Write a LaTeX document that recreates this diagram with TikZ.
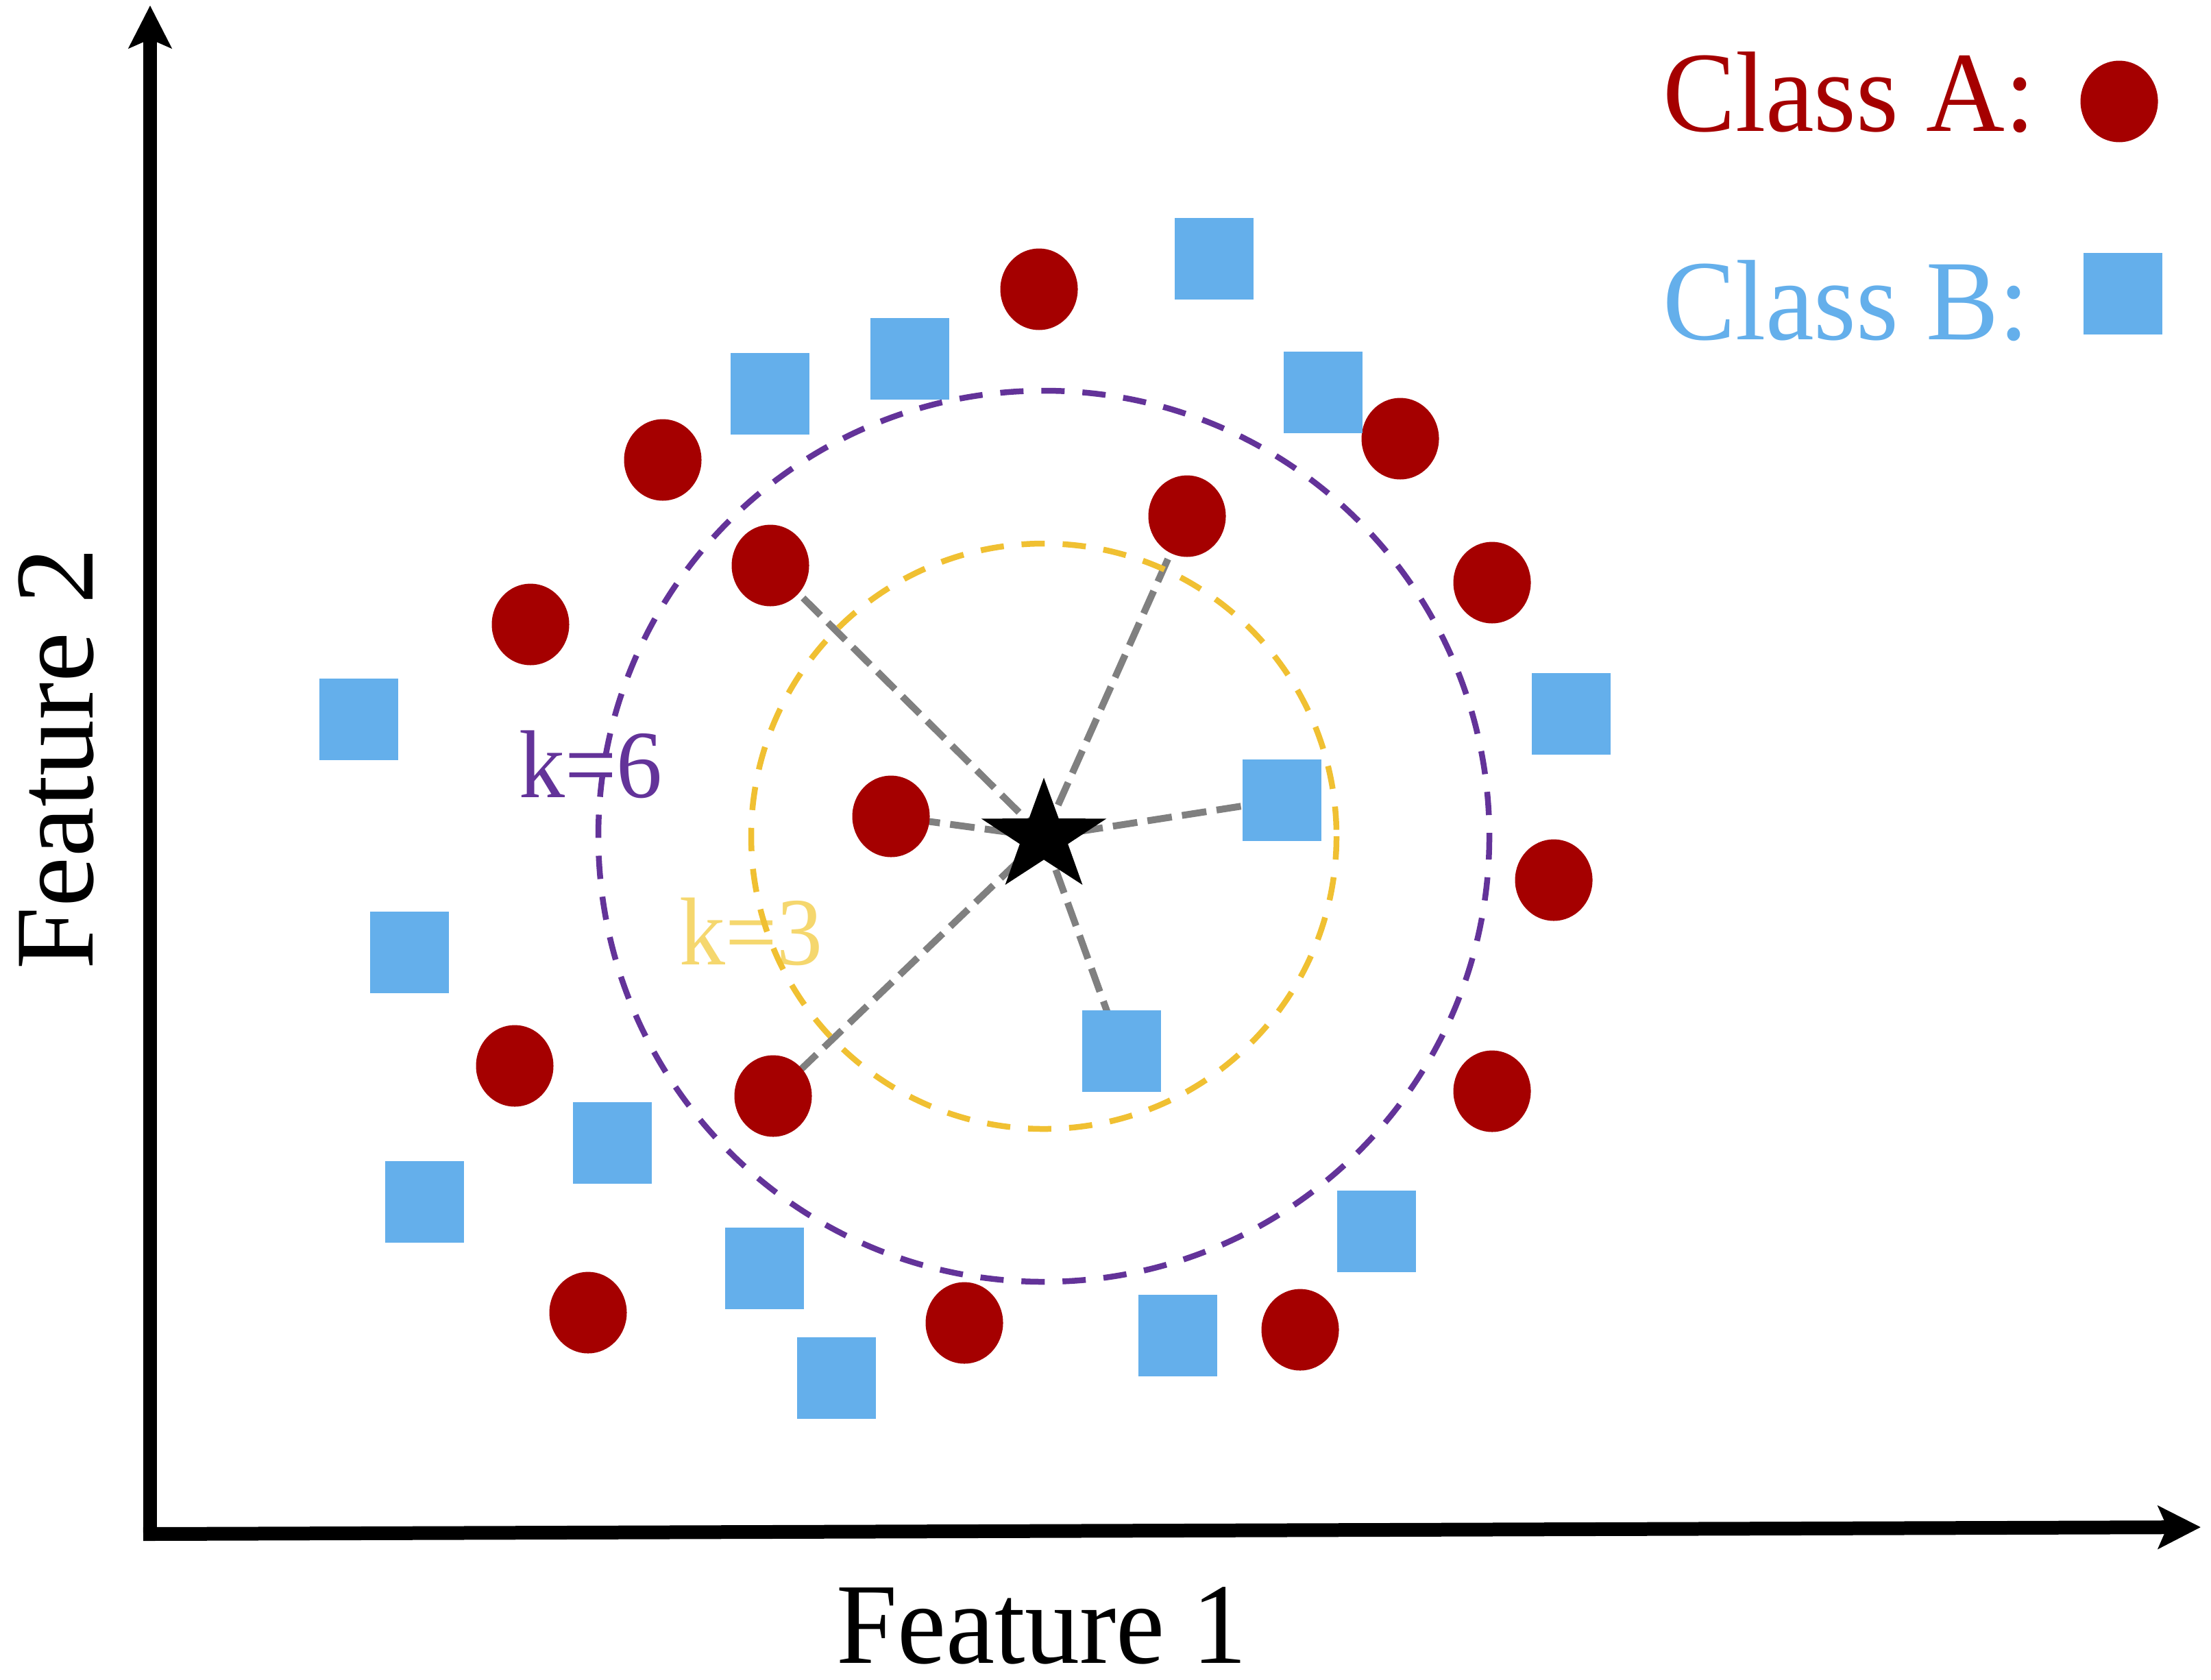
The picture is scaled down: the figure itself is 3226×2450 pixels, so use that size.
\documentclass[tikz,border=0pt]{standalone}
\usepackage{fontspec}
\setmainfont{Liberation Serif}
\usetikzlibrary{shapes.geometric,arrows.meta}
\definecolor{clsA}{RGB}{165,0,0}
\definecolor{clsB}{RGB}{100,175,235}
\definecolor{kpurple}{RGB}{99,51,153}
\definecolor{kyellow}{RGB}{240,192,50}
\definecolor{kyellowtxt}{RGB}{245,215,110}
\definecolor{nngray}{RGB}{128,128,128}
\pgfdeclarelayer{bg}
\pgfsetlayers{bg,main}
\newcommand{\tallbox}[1]{\scalebox{1}[1.05]{#1}}
\begin{document}
\begin{tikzpicture}[x=0.1pt,y=-0.1pt,
  ptA/.style={ellipse, fill=clsA, inner sep=0pt, minimum width=11.3pt, minimum height=11.9pt},
  ptB/.style={rectangle, fill=clsB, inner sep=0pt, minimum width=11.5pt, minimum height=11.9pt},
  nnline/.style={draw=nngray, line width=1pt, dash pattern=on 3.6pt off 1.5pt},
  kcircle/.style={line width=0.85pt, dash pattern=on 3.4pt off 2.6pt},
  axisline/.style={line width=2pt, -{Stealth[length=6.2pt,width=6.2pt,inset=1.3pt]}},
  lbl/.style={inner sep=0pt, outer sep=0pt},
  bigfont/.style={font=\fontsize{16pt}{19pt}\selectfont},
  legfont/.style={font=\fontsize{15.9pt}{19pt}\selectfont},
  kfont/.style={font=\fontsize{13.4pt}{16pt}\selectfont}
]
\useasboundingbox (0,0) rectangle (3226,2450);

% axes
\coordinate (xstart) at (209,2238);
\coordinate (xend) at (3211,2228);
\coordinate (ystart) at (219,2248);
\coordinate (yend) at (219,8);
\draw[axisline] (xstart) -- (xend);
\draw[axisline] (ystart) -- (yend);

\node[lbl, bigfont, anchor=base, text depth=0pt] (f1) at (1520,2426) {\tallbox{Feature 1}};
\node[lbl, font=\fontsize{16.4pt}{19pt}\selectfont, anchor=base, rotate=90] (f2) at (135,1107) {Feature 2};

% legend
\node[lbl, legfont, anchor=base west, text=clsA] (legA) at (2426,191) {\tallbox{Class A:}};
\node[lbl, legfont, anchor=base west, text=clsB] (legB) at (2426,495) {\tallbox{Class B:}};
\node[ptA] (aL) at (3092,148) {};
\node[ptB] (bL) at (3097,428) {};

% query star
\coordinate (c) at (1523,1220);
\node[star, star points=5, star point ratio=2.6, minimum size=19.2pt, inner sep=0pt, fill=black, yscale=0.9, transform shape] (q) at (1523,1221) {};

% class A points
\node[ptA] (a1) at (1516,422) {};
\node[ptA] (a2) at (967,671) {};
\node[ptA] (a3) at (2043,640) {};
\node[ptA] (a4) at (1124,825) {};
\node[ptA] (a5) at (1732,753) {};
\node[ptA] (a6) at (774,911) {};
\node[ptA] (a7) at (2177,850) {};
\node[ptA] (a8) at (1300,1191) {};
\node[ptA] (a9) at (2267,1284) {};
\node[ptA] (a10) at (751,1555) {};
\node[ptA] (a11) at (1128,1599) {};
\node[ptA] (a12) at (2177,1592) {};
\node[ptA] (a13) at (858,1915) {};
\node[ptA] (a14) at (1407,1930) {};
\node[ptA] (a15) at (1897,1940) {};

% class B points
\node[ptB] (b1) at (1771,377) {};
\node[ptB] (b2) at (1327,523) {};
\node[ptB] (b3) at (1123,574) {};
\node[ptB] (b4) at (1930,572) {};
\node[ptB] (b5) at (523,1049) {};
\node[ptB] (b6) at (2292,1041) {};
\node[ptB] (b7) at (1870,1167) {};
\node[ptB] (b8) at (597,1389) {};
\node[ptB] (b9) at (1636,1533) {};
\node[ptB] (b10) at (893,1667) {};
\node[ptB] (b11) at (619,1753) {};
\node[ptB] (b12) at (1115,1850) {};
\node[ptB] (b13) at (2008,1796) {};
\node[ptB] (b14) at (1220,2010) {};
\node[ptB] (b15) at (1718,1948) {};

\begin{pgfonlayer}{bg}
  \foreach \p in {a8,a4,a5,b7,b9,a11}
    \draw[nnline] (q.center) -- (\p.center);
  \node[lbl, kfont, anchor=base west, text=kpurple] (k6) at (757,1163) {\tallbox{k=6}};
  \node[lbl, kfont, anchor=base west, text=kyellowtxt] (k3) at (991,1407) {\tallbox{k=3}};
  \draw[kcircle, draw=kpurple] (c) circle[radius=650];
  \draw[kcircle, draw=kyellow] (c) circle[radius=427];
\end{pgfonlayer}
\end{tikzpicture}
\end{document}
